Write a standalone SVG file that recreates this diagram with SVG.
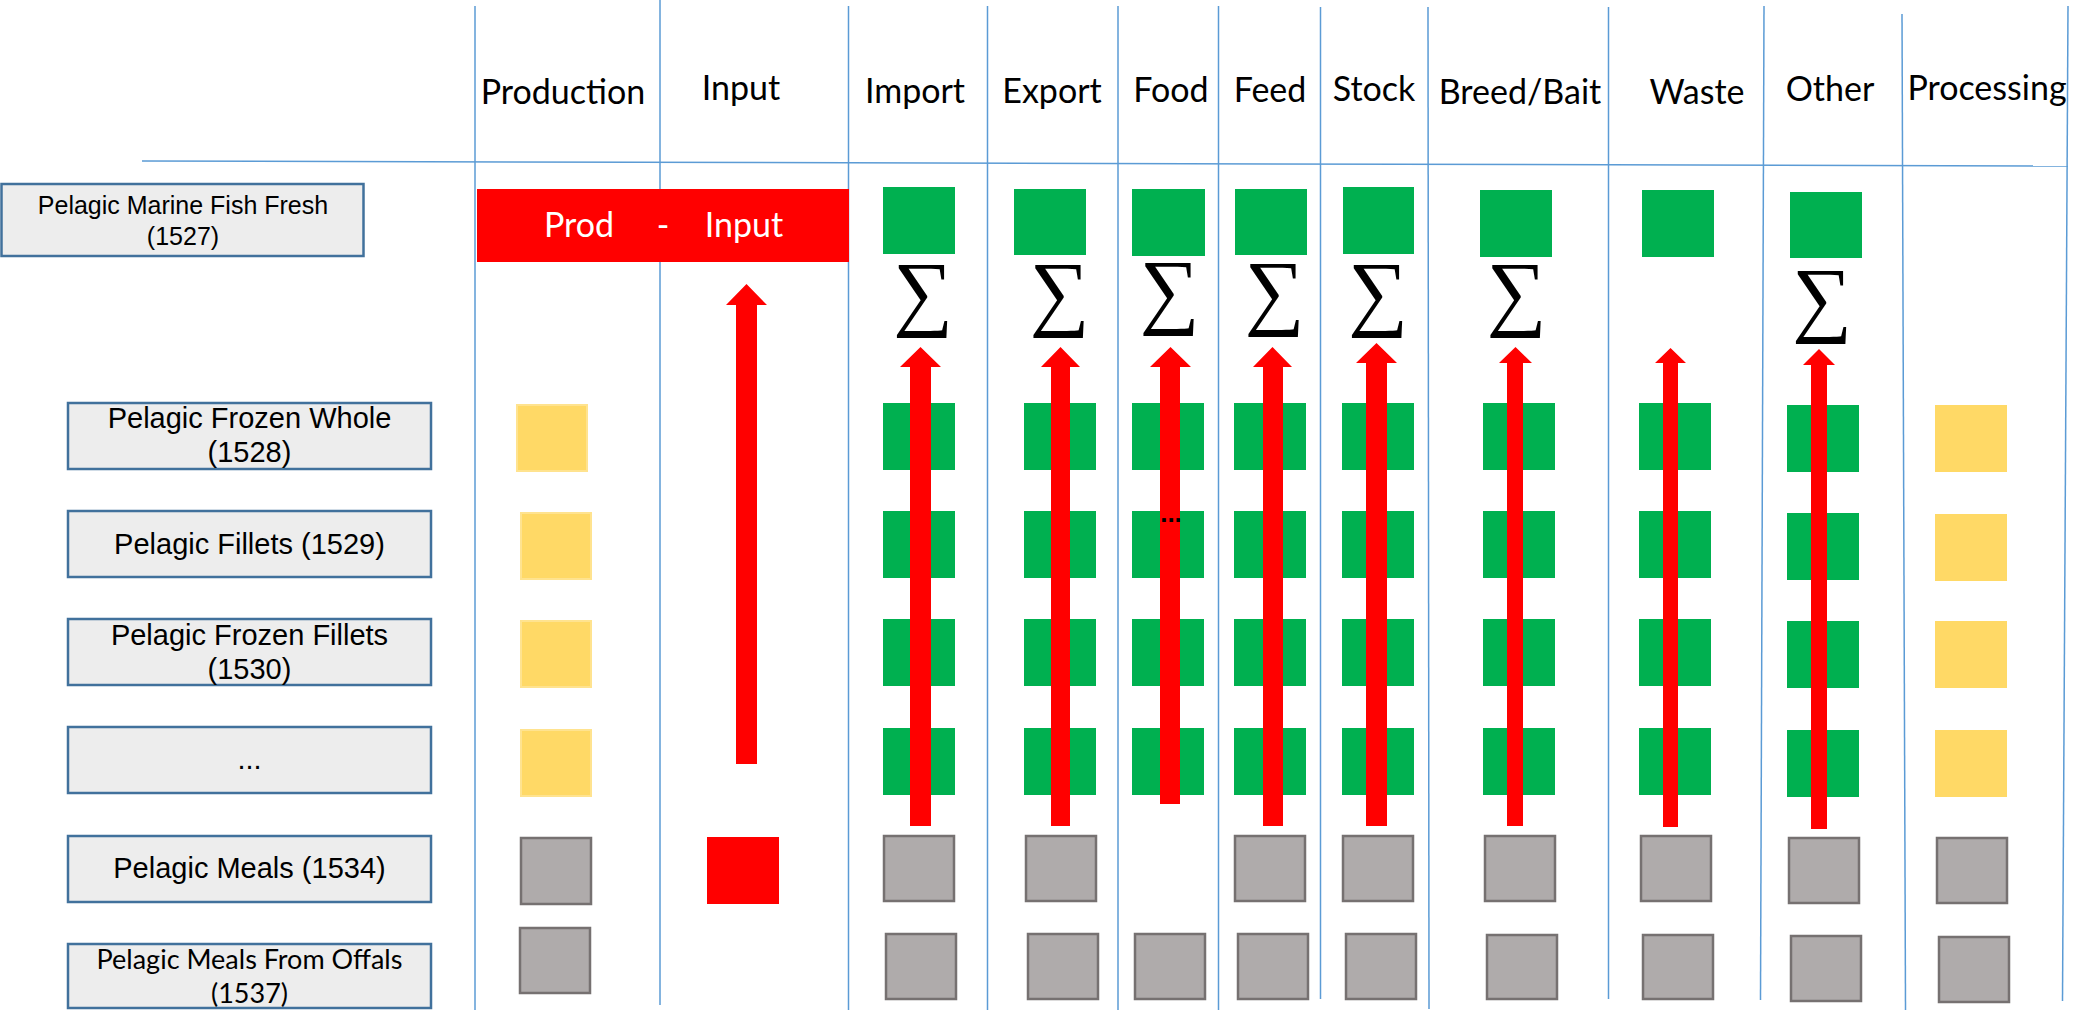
<svg xmlns="http://www.w3.org/2000/svg" width="2091" height="1030" viewBox="0 0 2091 1030">
<style>
.grid{stroke:#5B9BD5;stroke-width:1.5;fill:none}
.hdr{font-family:Lato,"Open Sans",sans-serif;font-size:34px;fill:#000;text-anchor:middle}
.lbl{fill:#EDEDED;stroke:#41719C;stroke-width:2.5}
.lt{font-family:"Liberation Sans",Arial,sans-serif;font-size:29px;fill:#000;text-anchor:middle}
.lts{font-family:"Liberation Sans",Arial,sans-serif;font-size:25px;fill:#000;text-anchor:middle}
.ltc{font-family:Lato,"Open Sans",sans-serif;font-size:27px;fill:#000;text-anchor:middle}
.g{fill:#00B050}
.y{fill:#FFD966}
.yb{fill:#FFD966;stroke:#FFE38F;stroke-width:2}
.gr{fill:#AFABAB;stroke:#767171;stroke-width:2.5}
.r{fill:#FF0000}
.wt{font-family:Lato,"Open Sans",sans-serif;font-size:34px;fill:#FFFFFF;text-anchor:middle}
.sig{font-family:"Liberation Serif","DejaVu Serif",serif;font-size:84px;fill:#000;text-anchor:middle}
</style>
<rect width="2091" height="1030" fill="#FFFFFF"/>
<g id="grid">
<line class="grid" x1="142" y1="161" x2="2068" y2="166"/>
<line class="grid" x1="475" y1="6" x2="475" y2="1010"/>
<line class="grid" x1="660" y1="0" x2="660" y2="1005"/>
<line class="grid" x1="848.5" y1="6" x2="848.5" y2="1010"/>
<line class="grid" x1="987.5" y1="6" x2="987.5" y2="1010"/>
<line class="grid" x1="1118" y1="6" x2="1118" y2="1010"/>
<line class="grid" x1="1218.5" y1="6" x2="1218.5" y2="1010"/>
<line class="grid" x1="1320.5" y1="7" x2="1320.5" y2="999"/>
<line class="grid" x1="1428" y1="7" x2="1429" y2="1009"/>
<line class="grid" x1="1608.5" y1="7" x2="1608.5" y2="999"/>
<line class="grid" x1="1764" y1="6" x2="1760.5" y2="1000"/>
<line class="grid" x1="1902" y1="14" x2="1905.5" y2="1010"/>
<line class="grid" x1="2068" y1="6" x2="2062.5" y2="1001"/>
</g>
<g id="headers">
<text class="hdr" x="563" y="104">Production</text>
<text class="hdr" x="741" y="100">Input</text>
<text class="hdr" x="915" y="103">Import</text>
<text class="hdr" x="1052" y="103">Export</text>
<text class="hdr" x="1171" y="102">Food</text>
<text class="hdr" x="1270" y="102">Feed</text>
<text class="hdr" x="1374" y="101">Stock</text>
<text class="hdr" x="1520" y="104">Breed/Bait</text>
<text class="hdr" x="1697" y="104">Waste</text>
<text class="hdr" x="1830" y="101">Other</text>
<text class="hdr" x="1987" y="100">Processing</text>
</g>
<g id="node-1527">
<rect class="lbl" x="1.5" y="184" width="362" height="72"/>
<text class="lts" x="183" y="214">Pelagic Marine Fish Fresh</text>
<text class="lts" x="183" y="245">(1527)</text>
</g>
<g id="node-1528">
<rect class="lbl" x="68" y="403" width="363" height="66"/>
<text class="lt" x="249.5" y="428">Pelagic Frozen Whole</text>
<text class="lt" x="249.5" y="462">(1528)</text>
</g>
<g id="node-1529">
<rect class="lbl" x="68" y="511" width="363" height="66"/>
<text class="lt" x="249.5" y="554">Pelagic Fillets (1529)</text>
</g>
<g id="node-1530">
<rect class="lbl" x="68" y="619" width="363" height="66"/>
<text class="lt" x="249.5" y="645">Pelagic Frozen Fillets</text>
<text class="lt" x="249.5" y="679">(1530)</text>
</g>
<g id="node-more">
<rect class="lbl" x="68" y="727" width="363" height="66"/>
<text class="lt" x="249.5" y="769" font-size="22">...</text>
</g>
<g id="node-1534">
<rect class="lbl" x="68" y="836" width="363" height="66"/>
<text class="lt" x="249.5" y="878">Pelagic Meals (1534)</text>
</g>
<g id="node-1537">
<rect class="lbl" x="68" y="944" width="363" height="64"/>
<text class="ltc" x="249.5" y="969">Pelagic Meals From Offals</text>
<text class="ltc" x="249.5" y="1003">(1537)</text>
</g>
<g id="node-prod-input">
<rect class="r" x="477" y="189" width="372" height="73"/>
<text class="wt" x="579" y="237">Prod</text>
<text class="wt" x="663" y="237">-</text>
<text class="wt" x="744" y="237">Input</text>
</g>
<g id="col-production">
<rect class="yb" x="517" y="405" width="70" height="66"/>
<rect class="yb" x="521" y="513" width="70" height="66"/>
<rect class="yb" x="521" y="621" width="70" height="66"/>
<rect class="yb" x="521" y="730" width="70" height="66"/>
<rect class="gr" x="521" y="838" width="70" height="66"/>
<rect class="gr" x="520" y="928" width="70" height="65"/>
</g>
<g id="col-input">
<rect class="r" x="707" y="837" width="72" height="67"/>
</g>
<g id="col-import">
<rect class="g" x="883" y="187" width="72" height="67"/>
<rect class="g" x="883" y="403" width="72" height="67"/>
<rect class="g" x="883" y="511" width="72" height="67"/>
<rect class="g" x="883" y="619" width="72" height="67"/>
<rect class="g" x="883" y="728" width="72" height="67"/>
<rect class="gr" x="884" y="836" width="70" height="65"/>
<rect class="gr" x="886" y="934" width="70" height="65"/>
</g>
<g id="col-export">
<rect class="g" x="1014" y="189" width="72" height="66"/>
<rect class="g" x="1024" y="403" width="72" height="67"/>
<rect class="g" x="1024" y="511" width="72" height="67"/>
<rect class="g" x="1024" y="619" width="72" height="67"/>
<rect class="g" x="1024" y="728" width="72" height="67"/>
<rect class="gr" x="1026" y="836" width="70" height="65"/>
<rect class="gr" x="1028" y="934" width="70" height="65"/>
</g>
<g id="col-food">
<rect class="g" x="1132" y="189" width="73" height="67"/>
<rect class="g" x="1132" y="403" width="72" height="67"/>
<rect class="g" x="1132" y="511" width="72" height="67"/>
<rect class="g" x="1132" y="619" width="72" height="67"/>
<rect class="g" x="1132" y="728" width="72" height="67"/>
<rect class="gr" x="1135" y="934" width="70" height="65"/>
</g>
<g id="col-feed">
<rect class="g" x="1235" y="189" width="72" height="66"/>
<rect class="g" x="1234" y="403" width="72" height="67"/>
<rect class="g" x="1234" y="511" width="72" height="67"/>
<rect class="g" x="1234" y="619" width="72" height="67"/>
<rect class="g" x="1234" y="728" width="72" height="67"/>
<rect class="gr" x="1235" y="836" width="70" height="65"/>
<rect class="gr" x="1238" y="934" width="70" height="65"/>
</g>
<g id="col-stock">
<rect class="g" x="1343" y="187" width="71" height="67"/>
<rect class="g" x="1342" y="403" width="72" height="67"/>
<rect class="g" x="1342" y="511" width="72" height="67"/>
<rect class="g" x="1342" y="619" width="72" height="67"/>
<rect class="g" x="1342" y="728" width="72" height="67"/>
<rect class="gr" x="1343" y="836" width="70" height="65"/>
<rect class="gr" x="1346" y="934" width="70" height="65"/>
</g>
<g id="col-breed">
<rect class="g" x="1480" y="190" width="72" height="67"/>
<rect class="g" x="1483" y="403" width="72" height="67"/>
<rect class="g" x="1483" y="511" width="72" height="67"/>
<rect class="g" x="1483" y="619" width="72" height="67"/>
<rect class="g" x="1483" y="728" width="72" height="67"/>
<rect class="gr" x="1485" y="836" width="70" height="65"/>
<rect class="gr" x="1487" y="935" width="70" height="64"/>
</g>
<g id="col-waste">
<rect class="g" x="1642" y="190" width="72" height="67"/>
<rect class="g" x="1639" y="403" width="72" height="67"/>
<rect class="g" x="1639" y="511" width="72" height="67"/>
<rect class="g" x="1639" y="619" width="72" height="67"/>
<rect class="g" x="1639" y="728" width="72" height="67"/>
<rect class="gr" x="1641" y="836" width="70" height="65"/>
<rect class="gr" x="1643" y="935" width="70" height="64"/>
</g>
<g id="col-other">
<rect class="g" x="1790" y="192" width="72" height="66"/>
<rect class="g" x="1787" y="405" width="72" height="67"/>
<rect class="g" x="1787" y="513" width="72" height="67"/>
<rect class="g" x="1787" y="621" width="72" height="67"/>
<rect class="g" x="1787" y="730" width="72" height="67"/>
<rect class="gr" x="1789" y="838" width="70" height="65"/>
<rect class="gr" x="1791" y="936" width="70" height="65"/>
</g>
<g id="col-processing">
<rect class="y" x="1935" y="405" width="72" height="67"/>
<rect class="y" x="1935" y="514" width="72" height="67"/>
<rect class="y" x="1935" y="621" width="72" height="67"/>
<rect class="y" x="1935" y="730" width="72" height="67"/>
<rect class="gr" x="1937" y="838" width="70" height="65"/>
<rect class="gr" x="1939" y="937" width="70" height="65"/>
</g>
<g id="connectors">
<polygon class="r" points="736,764 736,305 726,305 746.5,284 767,305 757,305 757,764"/>
<polygon class="r" points="910,826 910,367 900,367 920.5,347 941,367 931,367 931,826"/>
<polygon class="r" points="1051,826 1051,367 1041,367 1060.5,347 1080,367 1070,367 1070,826"/>
<polygon class="r" points="1160,804 1160,367 1150,367 1170.5,347 1191,367 1180,367 1180,804"/>
<polygon class="r" points="1263,826 1263,367 1253,367 1272.5,347 1292,367 1283,367 1283,826"/>
<polygon class="r" points="1366,826 1366,363 1356,363 1376.5,343 1397,363 1387,363 1387,826"/>
<polygon class="r" points="1507,826 1507,363 1499,363 1515.5,347 1532,363 1523,363 1523,826"/>
<polygon class="r" points="1663,827 1663,363 1655,363 1670.5,348 1686,363 1678,363 1678,827"/>
<polygon class="r" points="1811,829 1811,365 1803,365 1819,349 1835,365 1827,365 1827,829"/>
</g>
<g id="sums">
<text class="sig" x="923" y="320">∑</text>
<text class="sig" x="1059.5" y="320">∑</text>
<text class="sig" x="1169.5" y="318">∑</text>
<text class="sig" x="1274.5" y="319">∑</text>
<text class="sig" x="1378" y="320">∑</text>
<text class="sig" x="1516.5" y="320">∑</text>
<text class="sig" x="1822" y="326">∑</text>
</g>
<text id="food-more" x="1171" y="522" font-family="Liberation Sans, Arial, sans-serif" font-size="26" font-weight="bold" text-anchor="middle" fill="#000">...</text>
</svg>
